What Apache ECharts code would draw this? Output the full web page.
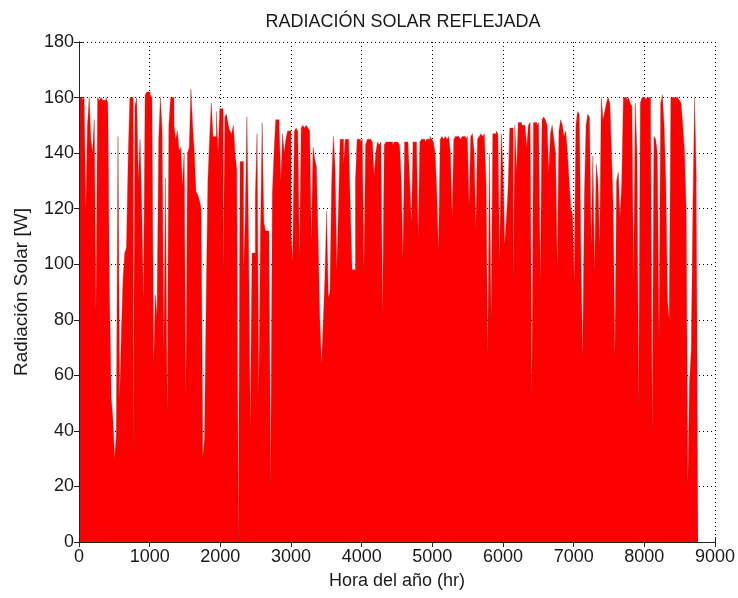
<!DOCTYPE html>
<html>
<head>
<meta charset="utf-8">
<script src="https://cdn.jsdelivr.net/npm/echarts@6/dist/echarts.min.js"></script>
<style>
  html, body { margin: 0; padding: 0; background: #ffffff; }
  #chart { width: 738px; height: 598px; }
</style>
</head>
<body>
<div id="chart"></div>
<script>
// Reflected solar radiation, one value per day of the year [W]
const radiacionDiaria = [
  160,160,159,160,120,150,160,145,140,152, 83,160,159,160,159,159,160,158, 89, 52,
   44, 30, 39,146, 52, 76, 95,104,106,138,160,160, 32,157,160,130,145,120, 87,161,
  162,162,161,160, 64, 89, 81,145,160,148, 69,131, 47,150,160,160,150,145,148,141,
  142,128,140, 53,140,142,163,150,140,126,125,123,120, 31, 37, 87,130,145,158,146,
  146,155,140,156,156, 97,153,154,150,148,147,150,140,134,  0,137,137, 97,116,153,
  108, 41,104,104,125,147, 53,110,151,115,112,112,110, 21,125,140,152,152,150,130,
  147,140,145,148,148,111,101,148,149,148,103,149,150,149,150,149,148,109,142,138,
  135,109, 80, 64, 79, 95,119, 88, 90,130,146,135, 98,120,145,145,136,145,145,144,
  120, 98, 98,130,145,145,144,145, 98,143,145,145,145,144,132,140,144,143,144, 82,
  143,144,144,144,144,143,144,144,144,143,130,102,144,144,143,130,115,144,144,143,
  110,144,145,145,144,145,145,146,145,144,140,125,105,145,146,145,146,145,146,140,
  117,145,146,146,146,145,146,146,145,146,121,146,147,140,113,145,146,147,146,147,
  130, 68,140, 81,147,147,148,147,101,147,135,107,116,127,149,149, 94,150,133,151,
  151,150,150,150,142,150,151, 53,151,151,150,151, 94,152,153,152,150,133,147,150,
  145,140, 99,148,152,150,146,148,140,130,120,118, 94,150,155,154,100, 67,124,150,
  154,153,107,139, 97,136,130,107,160,152,155,158,160,158,140,120, 67,130,133,117,
  129,160,160,159,160,158,157, 94,158,140, 50,158,160,160,159,160,160,155, 40,146,
  145,140, 73,158,161,150,130, 87, 80,160,160,160,160,160,159,158,150,141,120, 21,
   58, 69,121,160,130
];
const horasPorDia = 24;
const ticksX = [0, 9000, 1000];   // min, max, step
const ticksY = [0, 180, 20];      // min, max, step

// Each day's value spans its 24 hours; the last point closes the final day
const serie = radiacionDiaria.map((v, i) => [i * horasPorDia, v]);
serie.push([radiacionDiaria.length * horasPorDia, radiacionDiaria[radiacionDiaria.length - 1]]);

const FONT = 'Liberation Sans, Arial, sans-serif';
const INK = '#1a1a1a';
const plain = v => String(v);
const dotted = { show: true, lineStyle: { color: '#000', type: [1, 3], width: 1 } };

const chart = echarts.init(document.getElementById('chart'), null, { renderer: 'canvas' });
chart.setOption({
  animation: false,
  backgroundColor: '#ffffff',
  title: {
    text: 'RADIACIÓN SOLAR REFLEJADA',
    left: 398, top: 8, textAlign: 'center',
    textStyle: { fontFamily: FONT, fontSize: 18, fontWeight: 'normal', color: INK }
  },
  grid: { left: 79, right: 21, top: 42, bottom: 56, containLabel: false },
  xAxis: [
    {
      type: 'value', position: 'bottom', min: ticksX[0], max: ticksX[1], interval: ticksX[2],
      name: 'Hora del año (hr)', nameLocation: 'middle', nameGap: 30,
      nameTextStyle: { fontFamily: FONT, fontSize: 18, color: INK },
      axisLine: { show: true, lineStyle: { color: '#222', width: 1 } },
      axisTick: { show: true, inside: true, length: 5, lineStyle: { color: '#222' } },
      axisLabel: { fontFamily: FONT, fontSize: 18, color: INK, margin: 6, formatter: plain },
      splitLine: dotted
    },
    {
      type: 'value', position: 'top', min: ticksX[0], max: ticksX[1], interval: ticksX[2],
      axisLine: { show: true, lineStyle: { color: '#222', width: 1 } },
      axisTick: { show: true, inside: true, length: 5, lineStyle: { color: '#222' } },
      axisLabel: { show: false }, splitLine: { show: false }
    },
    {
      type: 'value', position: 'bottom', min: ticksX[0], max: ticksX[1], z: 10,
      axisLine: { show: true, lineStyle: { color: '#222', width: 1 } },
      axisTick: { show: false }, axisLabel: { show: false }, splitLine: { show: false }
    }
  ],
  yAxis: [
    {
      type: 'value', position: 'left', min: ticksY[0], max: ticksY[1], interval: ticksY[2],
      name: 'Radiación Solar [W]', nameLocation: 'middle', nameGap: 48, nameRotate: 90,
      nameTextStyle: { fontFamily: FONT, fontSize: 19, color: INK },
      axisLine: { show: true, lineStyle: { color: '#222', width: 1 } },
      axisTick: { show: true, inside: true, length: 5, lineStyle: { color: '#222' } },
      axisLabel: { fontFamily: FONT, fontSize: 18, color: INK, margin: 5, formatter: plain },
      splitLine: dotted
    },
    {
      type: 'value', position: 'right', min: ticksY[0], max: ticksY[1], interval: ticksY[2],
      axisLine: { show: true, lineStyle: { color: '#222', width: 1 } },
      axisTick: { show: true, inside: true, length: 5, lineStyle: { color: '#222' } },
      axisLabel: { show: false }, splitLine: { show: false }
    },
    {
      type: 'value', position: 'left', min: ticksY[0], max: ticksY[1], z: 10,
      axisLine: { show: true, lineStyle: { color: '#222', width: 1 } },
      axisTick: { show: false }, axisLabel: { show: false }, splitLine: { show: false }
    }
  ],
  series: [{
    type: 'line',
    xAxisIndex: 0, yAxisIndex: 0,
    data: serie,
    step: 'end',
    showSymbol: false,
    lineStyle: { color: '#a02a1c', width: 0.5, opacity: 0.7 },
    areaStyle: { color: '#ff0000', opacity: 1 }
  }]
});
</script>
</body>
</html>
